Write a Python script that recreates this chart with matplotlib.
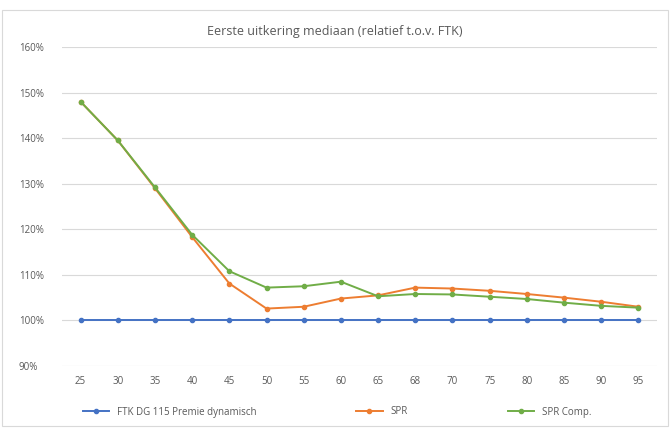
import matplotlib
matplotlib.use("Agg")
import matplotlib.pyplot as plt
from matplotlib.patches import Rectangle
from matplotlib.ticker import FuncFormatter

ages = ["25", "30", "35", "40", "45", "50", "55", "60", "65", "68", "70", "75", "80", "85", "90", "95"]
ftk = [100] * 16
spr = [148.0, 139.5, 129.0, 118.3, 108.1, 102.6, 103.0, 104.8, 105.5, 107.2, 107.0, 106.5, 105.8, 105.0, 104.1, 103.0]
spr_comp = [148.0, 139.5, 129.2, 118.8, 110.8, 107.2, 107.5, 108.5, 105.3, 105.8, 105.7, 105.2, 104.7, 103.9, 103.2, 102.8]
series_names = ["FTK DG 115 Premie dynamisch", "SPR", "SPR Comp."]
title = "Eerste uitkering mediaan (relatief t.o.v. FTK)"

plt.rcParams['font.family'] = ['Open Sans', 'DejaVu Sans']
fig = plt.figure(figsize=(6.7, 4.28), dpi=100)
ax = fig.add_axes([62/670, 1-366/428, 595/670, 319/428])

x = list(range(len(ages)))
ax.plot(x, ftk, color="#4472C4", lw=1.4, marker="o", ms=3, label=series_names[0], zorder=3)
ax.plot(x, spr, color="#ED7D31", lw=1.4, marker="o", ms=3, label=series_names[1], zorder=4)
ax.plot(x, spr_comp, color="#70AD47", lw=1.4, marker="o", ms=3, label=series_names[2], zorder=5)

ax.set_xlim(-0.5, len(ages) - 0.5)
ax.set_ylim(90, 160)
ax.set_yticks(range(90, 161, 10))
ax.yaxis.set_major_formatter(FuncFormatter(lambda v, p: f"{int(v)}%"))
ax.set_xticks(x)
ax.set_xticklabels(ages)
ax.grid(axis="y", color="#D9D9D9", lw=0.8)
ax.set_axisbelow(True)
for s in ax.spines.values():
    s.set_visible(False)
ax.tick_params(axis="both", length=0, labelsize=7, colors="#595959")
ax.tick_params(axis="x", pad=7)
ax.tick_params(axis="y", pad=31)
for lbl in ax.get_yticklabels():
    lbl.set_horizontalalignment("left")

fig.text(0.5, 1-32/428, title, ha="center", va="center", fontsize=9, color="#595959")
leg = fig.legend(loc="center", bbox_to_anchor=(0.5 + 2/670, 1-412/428), ncol=3, frameon=False,
                 fontsize=7, labelcolor="#595959", columnspacing=10.3, handlelength=2.7)

fig.patches.append(Rectangle((2/670, 2/428), 1-4/670, 1-12/428, transform=fig.transFigure,
                             fill=False, edgecolor="#D9D9D9", lw=0.8))
fig.savefig("out.png", dpi=100)
